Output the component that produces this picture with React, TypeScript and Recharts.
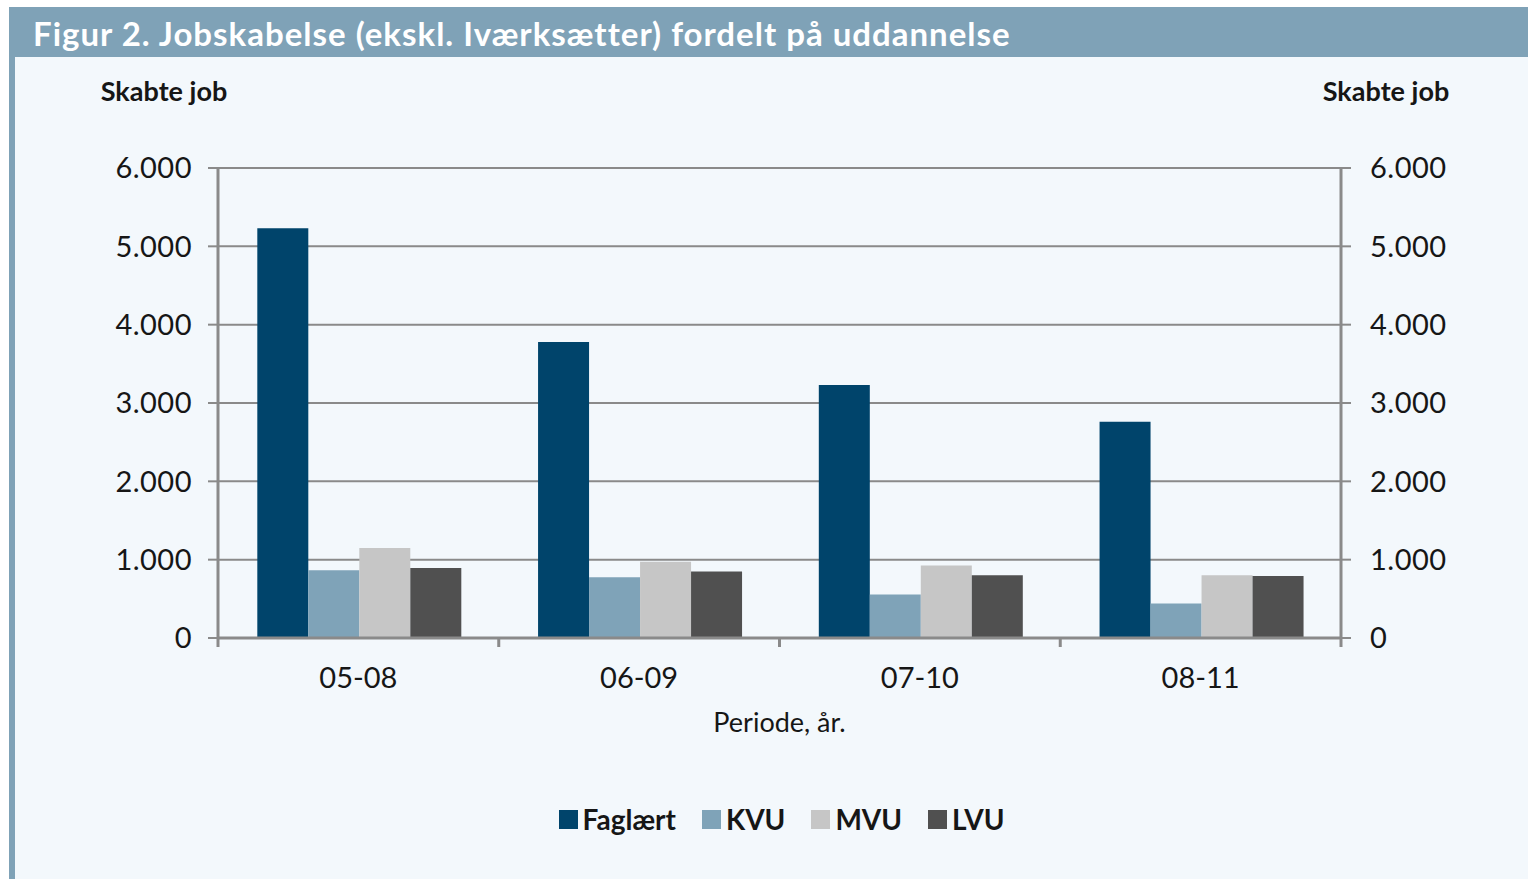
import { BarChart, Bar, XAxis, YAxis, CartesianGrid, Legend } from "recharts";

// ─── Data ────────────────────────────────────────────────────────────────────

const PERIODS = ["05-08", "06-09", "07-10", "08-11"];
const FAGLAERT = [5230, 3780, 3230, 2760];
const KVU = [865, 775, 555, 440];
const MVU = [1150, 975, 925, 800];
const LVU = [893, 850, 800, 790];
const Y_TICKS = [0, 1000, 2000, 3000, 4000, 5000, 6000];

const SERIES = [
  { key: "faglaert", name: "Faglært", color: "#00446b", values: FAGLAERT },
  { key: "kvu", name: "KVU", color: "#7fa3b8", values: KVU },
  { key: "mvu", name: "MVU", color: "#c6c6c6", values: MVU },
  { key: "lvu", name: "LVU", color: "#505050", values: LVU },
];

const data = PERIODS.map((p, i) => {
  const row: Record<string, string | number> = { period: p };
  SERIES.forEach((s) => (row[s.key] = s.values[i]));
  return row;
});

// ─── Styling ─────────────────────────────────────────────────────────────────

const FONT = "Lato, 'Open Sans', sans-serif";
const FRAME = "#7fa2b7";
const BG = "#f3f8fc";
const AXIS = "#8a8a8a";
const TEXT = "#161616";

const CHART_W = 1513;
const CHART_H = 822;
const PLOT_W = 1123;

const fmt = (v: number) => String(v).replace(/\B(?=(\d{3})+(?!\d))/g, ".");

// tick marks at category boundaries, label at the centre
function CategoryTick(props: any) {
  const { x, y, payload, index } = props;
  const half = payload?.offset || PLOT_W / PERIODS.length / 2;
  return (
    <g>
      <line x1={x - half} y1={y} x2={x - half} y2={y + 9} stroke={AXIS} strokeWidth={3} />
      {index === PERIODS.length - 1 && (
        <line x1={x + half} y1={y} x2={x + half} y2={y + 9} stroke={AXIS} strokeWidth={3} />
      )}
      <text x={x} y={y + 38} textAnchor="middle" dominantBaseline="central" fill={TEXT} fontSize={29} fontFamily={FONT}>
        {payload.value}
      </text>
    </g>
  );
}

function LegendContent() {
  return (
    <div style={{ display: "flex", justifyContent: "center", gap: 26, fontFamily: FONT }}>
      {SERIES.map((s) => (
        <div key={s.key} style={{ display: "flex", alignItems: "center", gap: 5 }}>
          <span style={{ width: 19, height: 19, background: s.color, display: "inline-block" }} />
          <span style={{ fontSize: 28, fontWeight: 700, color: TEXT }}>{s.name}</span>
        </div>
      ))}
    </div>
  );
}

const yTick = { fill: TEXT, fontSize: 29, fontFamily: FONT, letterSpacing: 0.5 };

// ─── Component ───────────────────────────────────────────────────────────────

export default function App() {
  return (
    <div style={{ position: "absolute", left: 0, top: 0, width: 1528, height: 879, background: "#fff", overflow: "hidden" }}>
      {/* frame */}
      <div style={{ position: "absolute", left: 9, top: 7, width: 1519, height: 872, background: FRAME }} />
      <div style={{ position: "absolute", left: 15, top: 57, width: 1513, height: 822, background: BG }} />
      <div
        style={{
          position: "absolute",
          left: 33,
          top: 7,
          height: 50,
          lineHeight: "52px",
          color: "#fff",
          fontFamily: FONT,
          fontWeight: 700,
          fontSize: 33,
          letterSpacing: 1,
          whiteSpace: "nowrap",
        }}
      >
        Figur 2. Jobskabelse (ekskl. Iværksætter) fordelt på uddannelse
      </div>

      {/* axis titles */}
      <div style={{ position: "absolute", left: 64, width: 200, top: 74, textAlign: "center", fontFamily: FONT, fontWeight: 700, fontSize: 27, color: TEXT }}>
        Skabte job
      </div>
      <div style={{ position: "absolute", left: 1286, width: 200, top: 74, textAlign: "center", fontFamily: FONT, fontWeight: 700, fontSize: 27, color: TEXT }}>
        Skabte job
      </div>

      <div style={{ position: "absolute", left: 15, top: 57 }}>
        <BarChart
          width={CHART_W}
          height={CHART_H}
          data={data}
          margin={{ top: 111, right: 107, left: 123, bottom: 121 }}
          barCategoryGap="14%"
          barGap={0}
        >
          <CartesianGrid vertical={false} stroke={AXIS} strokeWidth={2} />
          <XAxis
            dataKey="period"
            height={120}
            axisLine={{ stroke: AXIS, strokeWidth: 3 }}
            tickLine={false}
            tickSize={0}
            tickMargin={0}
            interval={0}
            tick={<CategoryTick />}
            label={{ value: "Periode, år.", position: "insideTop", offset: 75, fill: TEXT, fontSize: 27, fontFamily: FONT }}
          />
          <YAxis
            width={80}
            domain={[0, 6000]}
            ticks={Y_TICKS}
            tickFormatter={fmt}
            axisLine={{ stroke: AXIS, strokeWidth: 3 }}
            tickLine={{ stroke: AXIS, strokeWidth: 2 }}
            tickSize={10}
            tickMargin={16}
            tick={yTick}
          />
          <YAxis
            yAxisId="right"
            orientation="right"
            type="number"
            dataKey="faglaert"
            width={80}
            domain={[0, 6000]}
            allowDataOverflow
            ticks={Y_TICKS}
            tickFormatter={fmt}
            axisLine={{ stroke: AXIS, strokeWidth: 3 }}
            tickLine={{ stroke: AXIS, strokeWidth: 2 }}
            tickSize={10}
            tickMargin={19}
            tick={yTick}
          />
          <Legend
            layout="horizontal"
            verticalAlign="middle"
            align="center"
            wrapperStyle={{ top: 745, bottom: "auto", left: 10, width: CHART_W }}
            content={<LegendContent />}
          />
          {SERIES.map((s) => (
            <Bar key={s.key} dataKey={s.key} name={s.name} fill={s.color} isAnimationActive={false} />
          ))}
        </BarChart>
      </div>
    </div>
  );
}
